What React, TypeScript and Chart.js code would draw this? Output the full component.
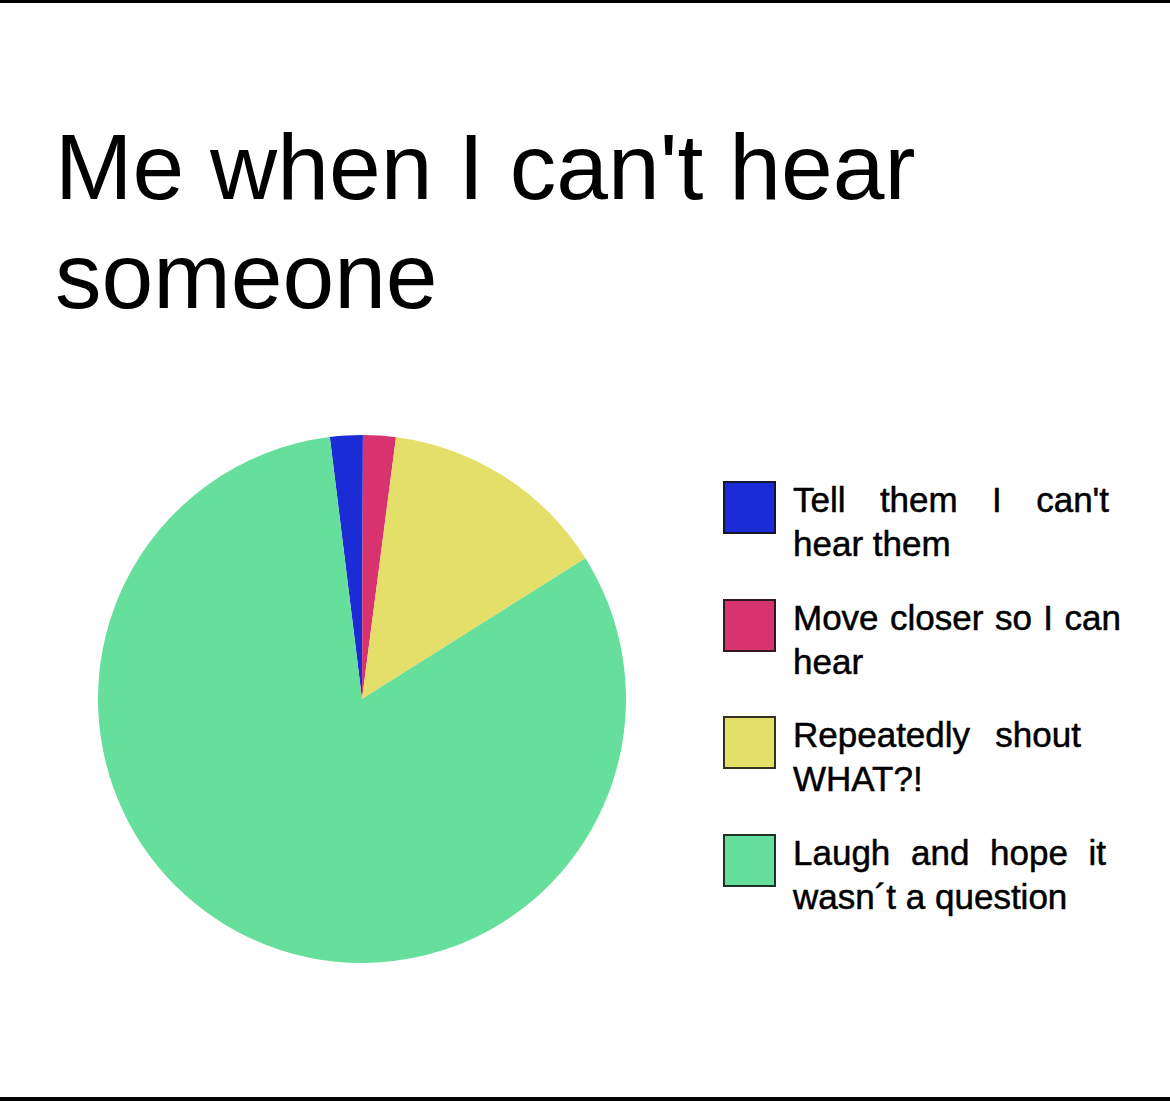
import React, { useEffect, useRef } from "react";
import { Chart, registerables } from "chart.js";

Chart.register(...registerables);

const TITLE_LINES = ["Me when I can't hear", "someone"];
const LEGEND_LINES = [
  ["Tell them I can't", "hear them"],
  ["Move closer so I can", "hear"],
  ["Repeatedly shout", "WHAT?!"],
  ["Laugh and hope it", "wasn\u00b4t a question"],
];
const CATEGORIES = LEGEND_LINES.map((l) => l.join(" "));
const VALUES = [2, 2, 14, 82];
const COLORS = ["#1b2bd6", "#d8336f", "#e3df68", "#66de9c"];

const FIRST_LINE_WIDTHS = [316, 328, 288, 313];

export default function App() {
  const canvasRef = useRef<HTMLCanvasElement | null>(null);

  useEffect(() => {
    if (!canvasRef.current) return;
    const chart = new Chart(canvasRef.current, {
      type: "pie",
      data: {
        labels: CATEGORIES,
        datasets: [
          {
            data: VALUES,
            backgroundColor: COLORS,
            borderWidth: 0,
          },
        ],
      },
      options: {
        responsive: false,
        animation: false,
        devicePixelRatio: 1,
        rotation: -7,
        layout: { padding: 0 },
        plugins: {
          legend: { display: false },
          tooltip: { enabled: false },
          title: { display: false },
        },
      },
    });
    return () => chart.destroy();
  }, []);

  const font = "'Liberation Sans', Arial, sans-serif";

  return (
    <div
      style={{
        position: "absolute",
        left: 0,
        top: 0,
        width: 1170,
        height: 1101,
        background: "#ffffff",
        overflow: "hidden",
      }}
    >
      <div style={{ position: "absolute", left: 0, top: 0, width: 1170, height: 3, background: "#000" }} />
      <div style={{ position: "absolute", left: 0, top: 1097, width: 1170, height: 4, background: "#000" }} />
      <div
        style={{
          position: "absolute",
          left: 55,
          top: 113,
          fontFamily: font,
          fontSize: 93,
          lineHeight: "109px",
          color: "#000",
          whiteSpace: "nowrap",
        }}
      >
        {TITLE_LINES.map((l, i) => (
          <div key={i}>{l}</div>
        ))}
      </div>
      <canvas
        ref={canvasRef}
        width={528}
        height={528}
        style={{ position: "absolute", left: 98, top: 435, width: 528, height: 528 }}
      />
      {LEGEND_LINES.map((lines, i) => (
        <div key={i} style={{ position: "absolute", left: 723, top: 478 + i * 117.5 }}>
          <div
            style={{
              position: "absolute",
              left: 0,
              top: 3,
              width: 49,
              height: 49,
              background: COLORS[i],
              border: "2px solid rgba(20,20,20,0.85)",
            }}
          />
          <div
            style={{
              position: "absolute",
              left: 70,
              top: 0,
              fontFamily: font,
              fontSize: 35,
              lineHeight: "44px",
              color: "#000",
              WebkitTextStroke: "0.5px #000",
              whiteSpace: "nowrap",
            }}
          >
            <div
              style={{
                width: FIRST_LINE_WIDTHS[i],
                textAlign: "justify",
                textAlignLast: "justify",
              }}
            >
              {lines[0]}
            </div>
            <div>{lines[1]}</div>
          </div>
        </div>
      ))}
    </div>
  );
}
